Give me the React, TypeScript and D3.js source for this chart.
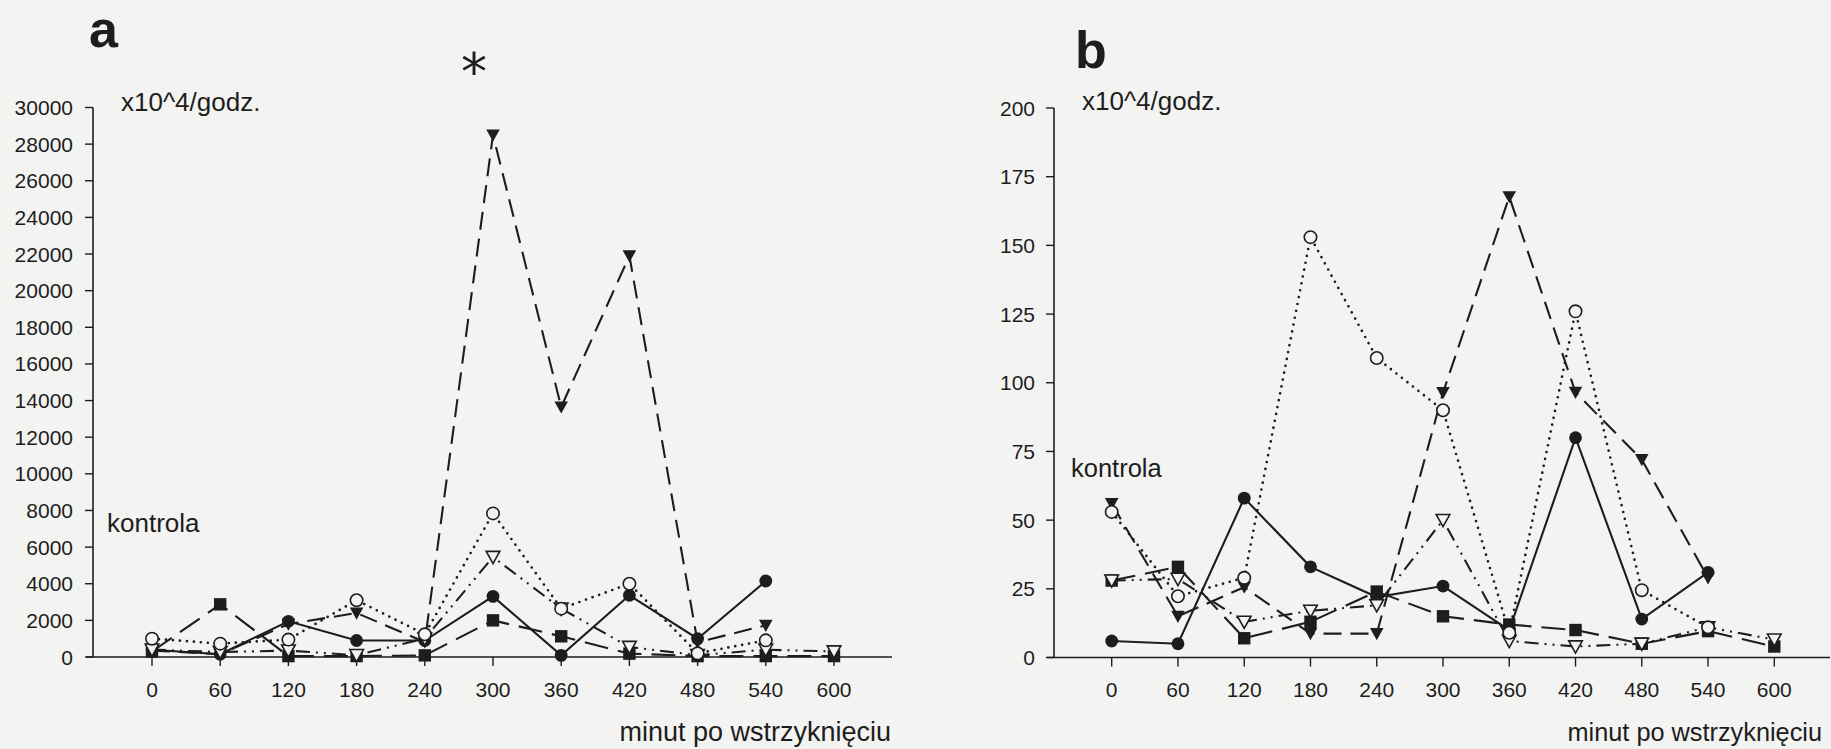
import React from "react";
import * as d3 from "d3";

const minutes = [0, 60, 120, 180, 240, 300, 360, 420, 480, 540, 600];

// panel a  (x10^4/godz.)
const aFilledCircle = [400, 150, 1950, 900, 900, 3310, 90, 3370, 1000, 4150, null];
const aSquare = [300, 2875, 50, 50, 90, 2000, 1130, 185, 50, 50, 50];
const aOpenCircle = [1000, 730, 950, 3100, 1240, 7840, 2640, 4000, 200, 910, null];
const aOpenTriangle = [400, 270, 350, 100, 1000, 5460, 2640, 545, 100, 400, 300];
const aFilledTriangle = [350, 150, 1800, 2400, 820, 28500, 13650, 21900, 800, 1730, null];
const aYTicks = d3.range(0, 30001, 2000);

// panel b
const bFilledCircle = [6, 5, 58, 33, 22, 26, 10, 80, 14, 31, null];
const bSquare = [28, 33, 7, 13, 24, 15, 12, 10, 5, 9.6, 4];
const bOpenCircle = [53, 22.3, 29, 153, 109, 90, 9, 126, 24.5, 11, null];
const bOpenTriangle = [28, 28.6, 13, 17, 19, 50, 6, 4, 5, 11, 6.5];
const bFilledTriangle = [56, 15, 25.6, 8.7, 8.7, 96.4, 167.7, 96.5, 72, 29, null];
const bYTicks = d3.range(0, 201, 25);

const FONT = "Arial, 'Liberation Sans', Helvetica, sans-serif";
const INK = "#1d1d1d";
const PAPER = "#f3f3f1";

// line style + marker per series (drawing order)
const styles = {
  ftri: { dash: "18,9", cap: "butt", width: 2.1 },
  square: { dash: "24,10", cap: "butt", width: 2.1 },
  fcircle: { dash: null, cap: "butt", width: 2.1 },
  otri: { dash: "14,6,2,6,2,6", cap: "butt", width: 2.1 },
  ocircle: { dash: "0,7", cap: "round", width: 2.7 },
};

function drawMarker(kind, x, y, key) {
  if (kind == "fcircle") return <circle key={key} cx={x} cy={y} r={6.4} fill={INK} />;
  if (kind == "ocircle")
    return <circle key={key} cx={x} cy={y} r={6.2} fill={PAPER} stroke={INK} strokeWidth={1.6} />;
  if (kind == "square")
    return <rect key={key} x={x - 6.2} y={y - 6.2} width={12.4} height={12.4} fill={INK} />;
  let tri = `M${x - 6.8},${y - 5.6}L${x + 6.8},${y - 5.6}L${x},${y + 6.6}Z`;
  if (kind == "ftri") return <path key={key} d={tri} fill={INK} />;
  return <path key={key} d={tri} fill={PAPER} stroke={INK} strokeWidth={1.6} />;
}

function Panel(props) {
  let xScale = d3.scaleLinear().domain([0, 600]).range([props.x0, props.x600]);
  let yScale = d3.scaleLinear().domain([0, props.yMax]).range([props.yBottom, props.yTop]);
  let line = d3
    .line()
    .defined((d) => d[1] != null)
    .x((d) => xScale(d[0]))
    .y((d) => yScale(d[1]));

  return (
    <g>
      {/* y axis */}
      <line x1={props.axisX} x2={props.axisX} y1={yScale(props.yMax)} y2={yScale(0)} stroke={INK} strokeWidth={1.6} />
      {props.yTicks.map((t) => (
        <g key={"y" + t}>
          <line x1={props.axisX - 8} x2={props.axisX} y1={yScale(t)} y2={yScale(t)} stroke={INK} strokeWidth={1.4} />
          <text x={props.labelRight} y={yScale(t)} dy="0.36em" textAnchor="end" fontSize={21} fill={INK} fontFamily={FONT}>
            {t}
          </text>
        </g>
      ))}
      {/* x axis */}
      <line x1={props.lineFrom} x2={props.lineTo} y1={yScale(0)} y2={yScale(0)} stroke={INK} strokeWidth={1.6} />
      {minutes.map((m) => (
        <g key={"x" + m}>
          <line x1={xScale(m)} x2={xScale(m)} y1={yScale(0)} y2={yScale(0) + 9} stroke={INK} strokeWidth={1.4} />
          <text x={xScale(m)} y={697} textAnchor="middle" fontSize={21} fill={INK} fontFamily={FONT}>
            {m}
          </text>
        </g>
      ))}
      {props.series.map((s) => (
        <path
          key={"l" + s.kind}
          d={line(minutes.map((m, i) => [m, s.values[i]]))}
          fill="none"
          stroke={INK}
          strokeWidth={styles[s.kind].width}
          strokeDasharray={styles[s.kind].dash}
          strokeLinecap={styles[s.kind].cap}
        />
      ))}
      {props.series.map((s) =>
        minutes.map((m, i) =>
          s.values[i] == null ? null : drawMarker(s.kind, xScale(m), yScale(s.values[i]), s.kind + m)
        )
      )}
    </g>
  );
}

export default function App() {
  let seriesA = [
    { kind: "ftri", values: aFilledTriangle },
    { kind: "square", values: aSquare },
    { kind: "fcircle", values: aFilledCircle },
    { kind: "otri", values: aOpenTriangle },
    { kind: "ocircle", values: aOpenCircle },
  ];
  let seriesB = [
    { kind: "ftri", values: bFilledTriangle },
    { kind: "square", values: bSquare },
    { kind: "fcircle", values: bFilledCircle },
    { kind: "otri", values: bOpenTriangle },
    { kind: "ocircle", values: bOpenCircle },
  ];

  return (
    <div style={{ position: "absolute", left: 0, top: 0 }}>
      <svg width={1831} height={749} style={{ display: "block", background: PAPER }}>
        <rect width={1831} height={749} fill={PAPER} />

        <text x={89} y={47} fontSize={52} fontWeight="bold" fill={INK} fontFamily={FONT}>a</text>
        <text x={461} y={90} fontSize={52} fill={INK} fontFamily="'DejaVu Sans', sans-serif" fontWeight="normal">*</text>
        <text x={121} y={111} fontSize={26} fill={INK} fontFamily={FONT}>x10^4/godz.</text>
        <text x={107} y={532} fontSize={26} fill={INK} fontFamily={FONT}>kontrola</text>
        <text x={891} y={741} textAnchor="end" fontSize={27} fill={INK} fontFamily={FONT}>minut po wstrzyknięciu</text>
        <Panel
          x0={152}
          x600={834}
          yBottom={657}
          yTop={107.5}
          yMax={30000}
          yTicks={aYTicks}
          axisX={93}
          labelRight={73}
          lineFrom={86}
          lineTo={892}
          series={seriesA}
        />

        <text x={1075} y={68} fontSize={52} fontWeight="bold" fill={INK} fontFamily={FONT}>b</text>
        <text x={1082} y={110} fontSize={26} fill={INK} fontFamily={FONT}>x10^4/godz.</text>
        <text x={1071} y={477} fontSize={25.5} fill={INK} fontFamily={FONT}>kontrola</text>
        <text x={1822} y={741} textAnchor="end" fontSize={25.3} fill={INK} fontFamily={FONT}>minut po wstrzyknięciu</text>
        <Panel
          x0={1111.7}
          x600={1774.3}
          yBottom={657.5}
          yTop={108}
          yMax={200}
          yTicks={bYTicks}
          axisX={1054}
          labelRight={1035}
          lineFrom={1047}
          lineTo={1830}
          series={seriesB}
        />
      </svg>
    </div>
  );
}
